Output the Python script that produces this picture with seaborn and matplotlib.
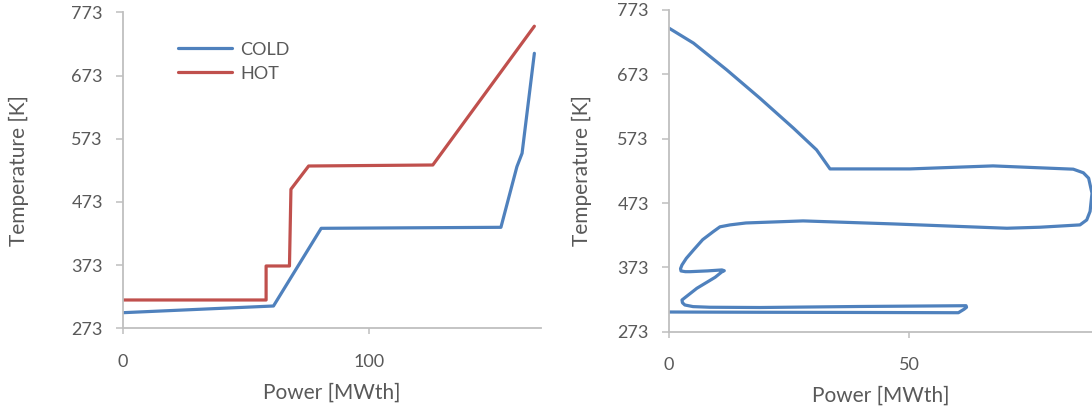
import matplotlib
matplotlib.use("Agg")
import matplotlib.pyplot as plt
import seaborn as sns
import pandas as pd

# Composite curves of the heat exchanger (temperature vs transferred power)
cold_power = [0.0, 61.2, 80.6, 153.7, 160.2, 162.3, 167.3]
cold_temp = [297.7, 308.3, 431.2, 432.8, 528.7, 549.9, 708.1]

hot_power = [0.0, 58.2, 58.2, 67.7, 68.3, 75.5, 126.0, 167.3]
hot_temp = [317.8, 317.8, 371.6, 371.6, 493.0, 529.8, 531.4, 751.0]

# Grand composite curve (net heat flow vs temperature)
gcc_power = [0.0, 5.1, 12.0, 18.9, 25.9, 30.7, 31.8, 33.5, 50.1, 67.4, 84.1, 86.2,
             87.3, 88.0, 87.6, 86.9, 85.5, 77.2, 70.3, 46.7, 27.9, 16.0, 12.7,
             10.6, 9.2, 7.0, 5.1, 3.6, 2.7, 2.4, 2.5, 3.4, 4.4, 8.0, 11.0, 11.5,
             11.0, 9.6, 5.8, 3.5, 2.7, 2.8, 3.3, 5.0, 8.5, 18.9, 39.7, 61.8,
             61.9, 61.4, 60.2, 39.7, 18.9, 0.0]
gcc_temp = [744.8, 721.5, 680.0, 636.0, 589.3, 555.6, 544.0, 526.0, 526.0, 530.7,
            525.6, 520.0, 511.6, 488.2, 460.0, 446.7, 439.0, 435.4, 433.8, 440.5,
            445.2, 442.0, 439.0, 436.0, 428.5, 416.0, 400.0, 387.0, 376.7, 371.0,
            367.4, 366.3, 366.3, 367.5, 369.0, 367.8, 366.0, 357.6, 340.5, 327.0,
            322.3, 318.0, 314.5, 312.0, 311.0, 310.6, 312.2, 313.4, 311.0, 308.0,
            302.5, 302.9, 303.2, 303.6]

y_ticks = [273, 373, 473, 573, 673, 773]

BLUE = "#4f81bd"
RED = "#c0504d"
GREY_TXT = "#595959"
GREY_AX = "#bfbfbf"

sns.set_style("white")
plt.rcParams["font.family"] = ["Lato", "DejaVu Sans"]

fig = plt.figure(figsize=(10.92, 4.12), dpi=100)
ax1 = fig.add_axes([123 / 1092, 1 - 328.3 / 412, 418 / 1092, 316 / 412])
ax2 = fig.add_axes([669 / 1092, 1 - 331.7 / 412, 423 / 1092, 321.7 / 412])

comp = pd.concat([
    pd.DataFrame({"Power": cold_power, "Temp": cold_temp, "Stream": "COLD"}),
    pd.DataFrame({"Power": hot_power, "Temp": hot_temp, "Stream": "HOT"}),
])
sns.lineplot(data=comp, x="Power", y="Temp", hue="Stream", palette=[BLUE, RED],
             sort=False, estimator=None, linewidth=2.3, ax=ax1)

gcc = pd.DataFrame({"Power": gcc_power, "Temp": gcc_temp})
sns.lineplot(data=gcc, x="Power", y="Temp", color=BLUE, sort=False,
             estimator=None, linewidth=2.3, ax=ax2)
for line in ax2.lines + ax1.lines:
    line.set_solid_joinstyle("round")
    line.set_solid_capstyle("round")

ax1.set_xlim(0, 170)
ax1.set_xticks([0, 100])
ax2.set_xlim(0, 88)
ax2.set_xticks([0, 50])

for ax, lx, ly in [(ax1, -0.225, -0.173), (ax2, -0.182, -0.169)]:
    ax.set_ylim(273, 773)
    ax.set_yticks(y_ticks)
    ax.set_xlabel("Power [MWth]", fontsize=15, color=GREY_TXT)
    ax.set_ylabel("Temperature [K]", fontsize=15, color=GREY_TXT)
    ax.xaxis.set_label_coords(0.5, ly)
    ax.yaxis.set_label_coords(lx, 0.5)
    for side in ["top", "right"]:
        ax.spines[side].set_visible(False)
    for side in ["left", "bottom"]:
        ax.spines[side].set_color(GREY_AX)
        ax.spines[side].set_linewidth(1.3)
    ax.tick_params(axis="y", direction="out", length=5, width=1.1, color=GREY_AX,
                   labelsize=13, labelcolor=GREY_TXT, pad=9.5, left=True)
    ax.tick_params(axis="x", direction="out", length=4.5, width=1.1, color=GREY_AX,
                   labelsize=13, labelcolor=GREY_TXT, pad=14, bottom=True)
    ax.grid(False)
    ax.patch.set_alpha(0)
    for sp in ax.spines.values():
        sp.set_clip_on(False)

leg = ax1.legend(loc="upper left", bbox_to_anchor=(0.115, 0.93), frameon=False,
                 fontsize=13, handlelength=3.0, handletextpad=0.45,
                 labelspacing=0.45, borderaxespad=0)
for t in leg.get_texts():
    t.set_color(GREY_TXT)
for h in leg.get_lines():
    h.set_linewidth(2.3)

fig.savefig("out.png", dpi=100)
